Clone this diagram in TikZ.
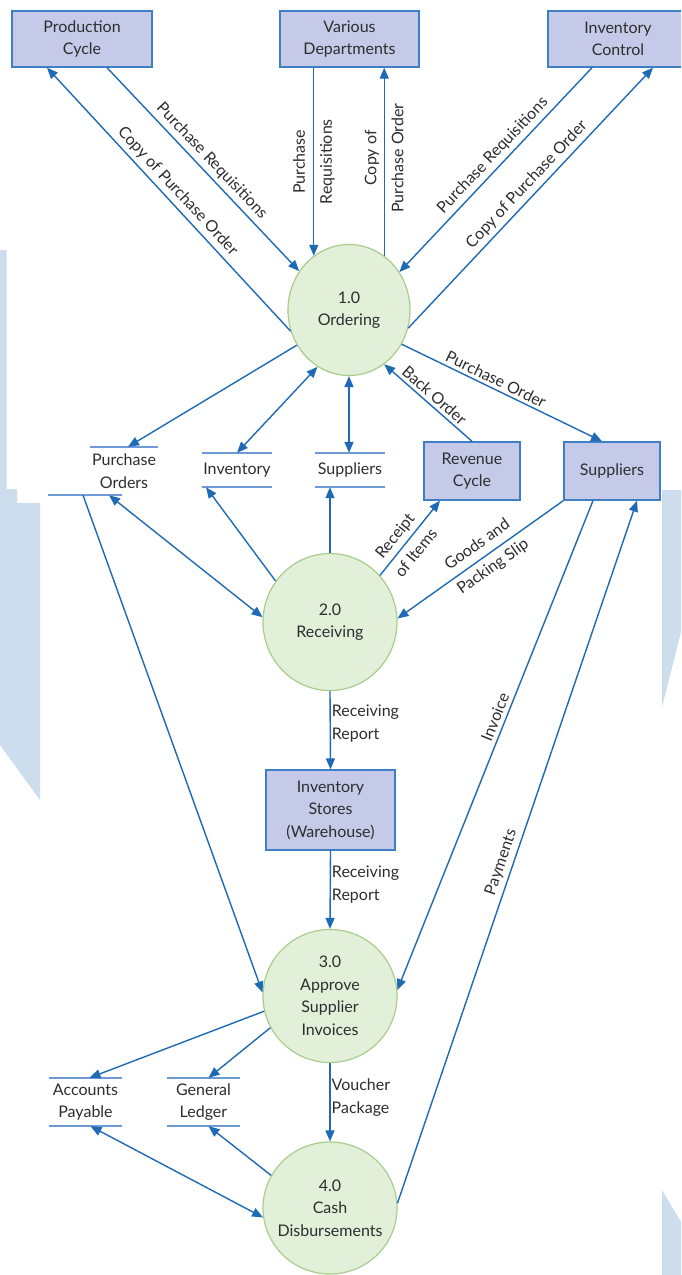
\documentclass[tikz,border=0pt]{standalone}
\usepackage{fontspec}
\setmainfont{Lato}
\usetikzlibrary{arrows.meta,shapes.geometric,calc}
\definecolor{boxfill}{HTML}{C5CAE9}
\definecolor{boxline}{HTML}{3F7FC6}
\definecolor{procfill}{HTML}{E2EFD9}
\definecolor{procline}{HTML}{A9CD8C}
\definecolor{flowblue}{HTML}{1F6AB4}
\definecolor{storeline}{HTML}{6E9BD6}
\definecolor{bgblue}{HTML}{CCDDEE}
\definecolor{textgray}{HTML}{2E2E2E}
\begin{document}
\begin{tikzpicture}[x=1pt,y=-1pt,
  every node/.style={font=\fontsize{16}{22.5}\selectfont, text=textgray},
  extbox/.style={draw=boxline, fill=boxfill, line width=1.4pt, minimum width=140pt, minimum height=56pt, align=center, inner sep=2pt},
  proc/.style={ellipse, draw=procline, fill=procfill, line width=1.2pt, align=center, inner sep=-6pt},
  store/.style={align=center, inner sep=0pt, minimum width=70pt},
  sline/.style={draw=storeline, line width=1.6pt},
  flow/.style={draw=flowblue, line width=1.4pt, ->},
  >={Triangle[length=11pt,width=9pt]},
  lbl/.style={font=\fontsize{16}{23}\selectfont, align=center, inner sep=1pt},
  widelbl/.style={lbl, font=\fontsize{16}{27}\selectfont},
]
\path[use as bounding box] (0,0) rectangle (681,1275);
\clip (0,0) rectangle (681,1275);
\fill[white] (0,0) rectangle (681,1275);
% background shapes
\fill[bgblue] (0,250) -- (6.5,250) -- (6.5,489) -- (17,489) -- (17,503) -- (40,503) -- (40,800) -- (0,745) -- cycle;
\fill[bgblue] (662,490) -- (681,490) -- (681,632) -- (662,707) -- cycle;
\fill[bgblue] (662,1190) -- (681,1222) -- (681,1275) -- (662,1275) -- cycle;

% external entities
\node[extbox] (pc) at (82,39) {Production\\Cycle};
\node[extbox, minimum width=139pt] (vd) at (349.5,39) {Various\\Departments};
\node[extbox] (ic) at (618,39) {Inventory\\Control};
\node[extbox, minimum width=96pt, minimum height=58pt] (rev) at (472,471) {Revenue\\Cycle};
\node[extbox, minimum width=96pt, minimum height=58pt] (supb) at (612,471) {Suppliers};
\node[extbox, minimum width=129pt, minimum height=80pt] (ist) at (330.5,810) {Inventory\\Stores\\(Warehouse)};

% processes
\node[proc, minimum width=122pt, minimum height=131pt] (p1) at (349,310) {1.0\\Ordering};
\node[proc, minimum width=134pt, minimum height=137pt] (p2) at (330,622) {2.0\\Receiving};
\node[proc, minimum width=134pt, minimum height=133pt] (p3) at (330,996) {3.0\\Approve\\Supplier\\Invoices};
\node[proc, minimum width=134pt, minimum height=132pt] (p4) at (330,1208) {4.0\\Cash\\Disbursements};

% data stores
\node[store, minimum width=68pt, minimum height=48pt] (po) at (124,471) {Purchase\\Orders};
\node[store, minimum height=34pt] (inv) at (237,470) {Inventory};
\node[store, minimum height=34pt] (sups) at (350,470) {Suppliers};
\node[store, minimum width=73pt, minimum height=48pt] (ap) at (85.5,1102) {Accounts\\Payable};
\node[store, minimum width=73pt, minimum height=48pt] (gl) at (203.5,1102) {General\\Ledger};
\draw[sline] (po.north west) -- (po.north east);
\draw[sline] ([xshift=-42pt]po.south west) -- ([xshift=-36pt]po.south east);
\foreach \s in {inv,sups,ap,gl}{
  \draw[sline] (\s.north west) -- (\s.north east);
  \draw[sline] (\s.south west) -- (\s.south east);
}

% flows around 1.0
\draw[flow] ([xshift=25pt]pc.south) -- node[lbl, sloped, above=3pt]{Purchase Requisitions} (p1.142);
\draw[flow] (p1.200.5) -- node[lbl, sloped, above=3pt]{Copy of Purchase Order} ([xshift=-35pt]pc.south);
\draw[flow] (p1.123 |- vd.south) -- node[widelbl, rotate=90]{Purchase\\Requisitions} (p1.123);
\draw[flow] (p1.57) -- node[widelbl, rotate=90, pos=.52]{Copy of\\Purchase Order} (p1.57 |- vd.south);
\draw[flow] ([xshift=-26pt]ic.south) -- node[lbl, sloped, above=3pt, pos=.47]{Purchase Requisitions} (p1.37.4);
\draw[flow] (p1.343) -- node[lbl, sloped, above=3pt, pos=.52]{Copy of Purchase Order} ([xshift=35pt]ic.south);
\draw[flow] (p1.214.5) -- ([xshift=4pt]po.north);
\draw[flow, <->] (p1.241.5) -- (inv.north);
\draw[flow, <->] (p1.south) -- (p1.south |- sups.north);
\draw[flow] (rev.north) -- node[lbl, sloped, above=2pt]{Back Order} (p1.303);
\draw[flow] (p1.327.5) -- node[lbl, sloped, above=2pt, pos=.45]{Purchase Order} ([xshift=-10pt]supb.north);

% flows around 2.0
\draw[flow, <->] ([xshift=-15pt]po.south) -- (p2.176);
\draw[flow] ([xshift=-41pt]po.south) -- (p3.177.5);
\draw[flow] (p2.143.5) -- ([xshift=-31pt]inv.south);
\draw[flow] (p2.north) -- (p2.north |- sups.south);
\draw[flow] (p2.43) -- node[widelbl, sloped, pos=.42]{Receipt\\of Items} ([xshift=-32pt]rev.south);
\draw[flow] (supb.south west) -- node[widelbl, sloped, pos=.47]{Goods and\\Packing Slip} (p2.3.3);
\draw[flow] ([xshift=-19pt]supb.south) -- node[lbl, sloped, above=3pt, pos=.45]{Invoice} (p3.5);
\draw[flow] (p4.4) -- node[lbl, sloped, above=3pt, pos=.48]{Payments} ([xshift=25pt]supb.south);
\draw[flow] (p2.south) -- node[lbl, right, pos=.41, align=left]{Receiving\\Report} (ist.north);
\draw[flow] (ist.south) -- node[lbl, right, pos=.43, align=left]{Receiving\\Report} (p3.north);

% flows around 3.0 and 4.0
\draw[flow] (p3.193.8) -- ([xshift=4pt]ap.north);
\draw[flow] (p3.208) -- ([xshift=5pt]gl.north);
\draw[flow] (p3.south) -- node[lbl, right, pos=.44, align=left]{Voucher\\Package} (p4.north);
\draw[flow, <->] ([xshift=5pt]ap.south) -- (p4.188);
\draw[flow] (p4.151) -- ([xshift=5pt]gl.south);
\end{tikzpicture}
\end{document}
